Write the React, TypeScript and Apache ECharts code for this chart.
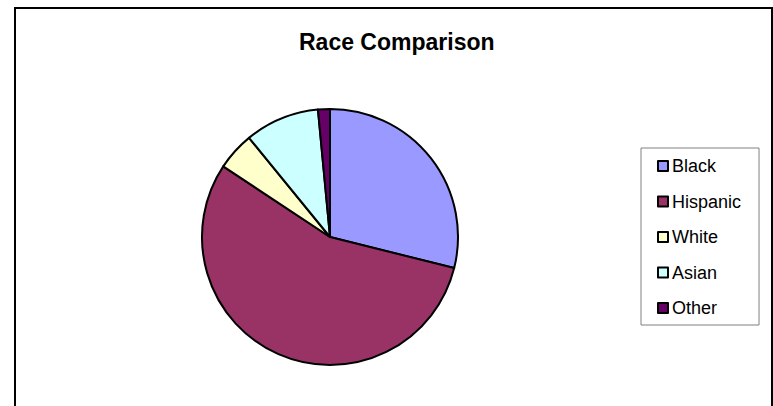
import React, { useEffect, useRef } from "react";
import * as echarts from "echarts";

const categories = ["Black", "Hispanic", "White", "Asian", "Other"];
const values = [28.9, 55.4, 4.8, 9.4, 1.5];
const colors = ["#9999FF", "#993366", "#FFFFCC", "#CCFFFF", "#660066"];
const titleText = "Race Comparison";

export default function App() {
  const ref = useRef<HTMLDivElement>(null);
  useEffect(() => {
    if (!ref.current) return;
    const chart = echarts.init(ref.current, null, { renderer: "svg" });
    chart.setOption({
      animation: false,
      backgroundColor: "#ffffff",
      textStyle: { fontFamily: "Liberation Sans, Arial, sans-serif" },
      title: {
        text: titleText,
        left: 299,
        top: 30,
        padding: 0,
        textStyle: {
          fontFamily: "Liberation Sans, Arial, sans-serif",
          fontSize: 23,
          fontWeight: "bold",
          color: "#000",
        },
      },
      graphic: [
        {
          type: "rect",
          shape: { x: 15, y: 8, width: 757, height: 420 },
          style: { fill: "none", stroke: "#000", lineWidth: 2 },
          silent: true,
        },
      ],
      legend: {
        orient: "vertical",
        left: 641,
        top: 148,
        padding: [9, 18, 8, 16],
        itemWidth: 10,
        itemHeight: 10,
        itemGap: 17.5,
        borderColor: "#808080",
        borderWidth: 1,
        icon: "rect",
        itemStyle: { borderColor: "#000", borderWidth: 2 },
        textStyle: {
          fontFamily: "Liberation Sans, Arial, sans-serif",
          fontSize: 18,
          color: "#000",
          padding: [0, 0, 0, -1],
        },
        data: categories,
      },
      series: [
        {
          type: "pie",
          center: [330, 237],
          radius: 128,
          startAngle: 90,
          clockwise: true,
          label: { show: false },
          labelLine: { show: false },
          emphasis: { disabled: true },
          itemStyle: { borderColor: "#000", borderWidth: 2 },
          data: categories.map((name, i) => ({
            name,
            value: values[i],
            itemStyle: { color: colors[i] },
          })),
        },
      ],
    });
    return () => chart.dispose();
  }, []);
  return (
    <div
      ref={ref}
      style={{ position: "fixed", left: 0, top: 0, width: 773, height: 406 }}
    />
  );
}
